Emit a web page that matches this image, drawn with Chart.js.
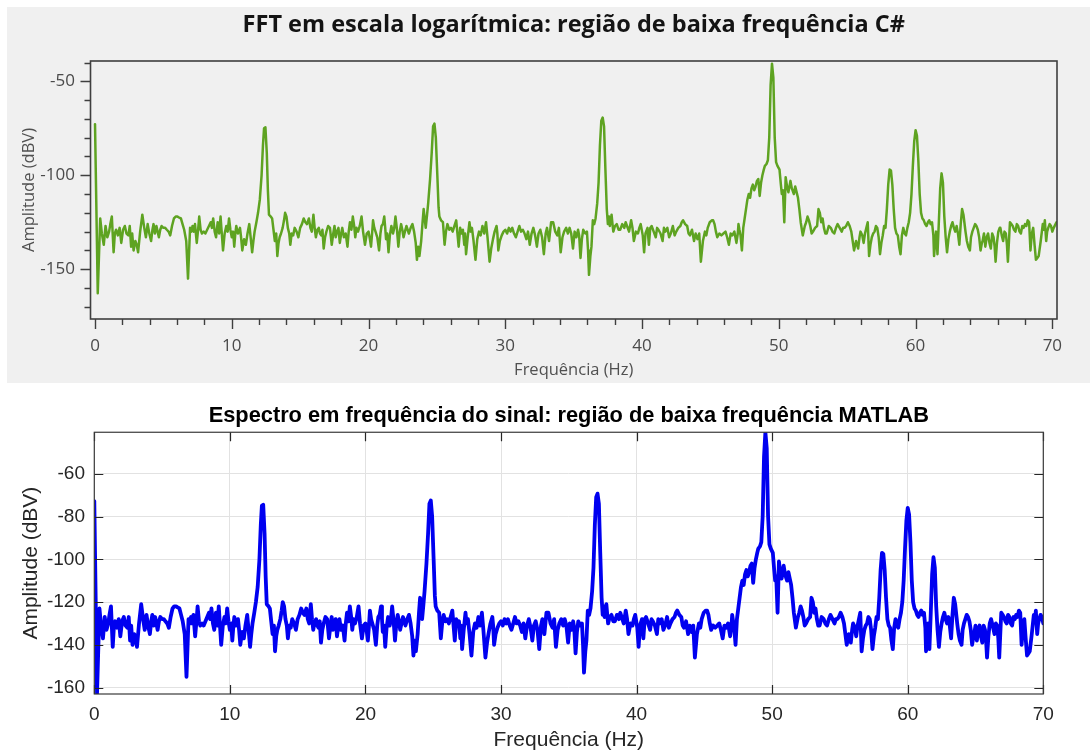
<!DOCTYPE html>
<html>
<head>
<meta charset="utf-8">
<title>Espectro de baixa frequência</title>
<script src="https://cdn.jsdelivr.net/npm/chart.js@4.4.1/dist/chart.umd.min.js"></script>
<style>
  html, body { margin: 0; padding: 0; background: #ffffff; width: 1090px; height: 754px; overflow: hidden; }
  #panelCsharp { position: absolute; left: 7px; top: 7px; width: 1083px; height: 376px; background: #f0f0f0; }
  #panelMatlab { position: absolute; left: 0px; top: 390px; width: 1090px; height: 364px; background: #ffffff; }
</style>
</head>
<body>
<div id="panelCsharp"><canvas id="csharpChart"></canvas></div>
<div id="panelMatlab"><canvas id="matlabChart"></canvas></div>
<script>
// Spectrum samples (frequency in Hz, amplitude in dBV), same signal in both plots
const freqHz = [
  0, 0.2, 0.38, 0.5, 0.64, 0.77, 0.9, 1.03, 1.12, 1.23,
  1.36, 1.45, 1.54, 1.67, 1.8, 1.92, 2.05, 2.18, 2.3, 2.44,
  2.54, 2.64, 2.72, 2.82, 2.95, 3.05, 3.15, 3.3, 3.46, 3.6,
  3.72, 3.85, 3.97, 4.1, 4.2, 4.28, 4.38, 4.49, 4.58, 4.67,
  4.77, 4.87, 5, 5.13, 5.25, 5.38, 5.5, 5.63, 5.77, 5.9,
  6.03, 6.15, 6.28, 6.4, 6.52, 6.67, 6.8, 6.95, 7.05, 7.13,
  7.22, 7.31, 7.44, 7.55, 7.62, 7.72, 7.82, 7.95, 8.07, 8.2,
  8.33, 8.46, 8.55, 8.64, 8.75, 8.85, 8.97, 9.08, 9.18, 9.27,
  9.36, 9.48, 9.6, 9.7, 9.8, 9.9, 10, 10.1, 10.18, 10.26,
  10.33, 10.45, 10.6, 10.68, 10.77, 10.9, 11.03, 11.15, 11.28, 11.38,
  11.49, 11.58, 11.67, 11.8, 11.92, 12.05, 12.18, 12.28, 12.36, 12.46,
  12.56, 12.64, 12.72, 12.85, 12.95, 13.05, 13.15, 13.25, 13.33, 13.42,
  13.5, 13.6, 13.72, 13.82, 13.9, 14, 14.1, 14.2, 14.28, 14.38,
  14.49, 14.6, 14.74, 14.87, 15, 15.13, 15.26, 15.38, 15.5, 15.64,
  15.75, 15.85, 15.97, 16.06, 16.15, 16.26, 16.36, 16.45, 16.54, 16.63,
  16.72, 16.82, 16.92, 17.05, 17.18, 17.31, 17.42, 17.51, 17.6, 17.69,
  17.8, 17.9, 18, 18.08, 18.2, 18.33, 18.46, 18.55, 18.64, 18.75,
  18.85, 18.95, 19.03, 19.12, 19.23, 19.36, 19.49, 19.6, 19.74, 19.87,
  20, 20.1, 20.18, 20.26, 20.33, 20.42, 20.51, 20.64, 20.77, 20.87,
  20.95, 21.05, 21.15, 21.22, 21.28, 21.37, 21.46, 21.56, 21.67, 21.79,
  21.88, 21.97, 22.08, 22.18, 22.28, 22.38, 22.47, 22.56, 22.66, 22.77,
  22.86, 22.95, 23.08, 23.21, 23.33, 23.45, 23.54, 23.63, 23.72, 23.85,
  23.95, 24.03, 24.12, 24.18, 24.28, 24.36, 24.5, 24.62, 24.72, 24.82,
  24.92, 25.03, 25.12, 25.18, 25.3, 25.44, 25.56, 25.66, 25.77, 25.9,
  26.03, 26.15, 26.28, 26.41, 26.5, 26.59, 26.7, 26.79, 26.9, 27,
  27.06, 27.13, 27.25, 27.38, 27.46, 27.56, 27.68, 27.82, 27.95, 28.08,
  28.2, 28.33, 28.46, 28.59, 28.7, 28.85, 28.97, 29.1, 29.22, 29.36,
  29.42, 29.49, 29.6, 29.74, 29.87, 30, 30.13, 30.26, 30.38, 30.51,
  30.64, 30.77, 30.9, 31.03, 31.15, 31.28, 31.41, 31.54, 31.66, 31.79,
  31.92, 32.05, 32.18, 32.31, 32.43, 32.56, 32.69, 32.82, 32.95, 33.05,
  33.2, 33.35, 33.5, 33.65, 33.8, 33.92, 34.05, 34.18, 34.3, 34.45,
  34.58, 34.7, 34.82, 34.95, 35.07, 35.2, 35.32, 35.4, 35.5, 35.6,
  35.7, 35.85, 35.97, 36.05, 36.12, 36.22, 36.3, 36.4, 36.5, 36.6,
  36.72, 36.82, 36.92, 37.02, 37.12, 37.22, 37.32, 37.42, 37.5, 37.58,
  37.64, 37.72, 37.77, 37.85, 37.9, 38.02, 38.15, 38.28, 38.4, 38.55,
  38.7, 38.8, 38.9, 39.05, 39.2, 39.3, 39.4, 39.55, 39.7, 39.8,
  39.9, 40.05, 40.15, 40.25, 40.4, 40.5, 40.6, 40.7, 40.85, 41,
  41.1, 41.2, 41.35, 41.5, 41.6, 41.7, 41.85, 41.98, 42.1, 42.25,
  42.38, 42.5, 42.65, 42.8, 42.9, 43, 43.15, 43.3, 43.4, 43.5,
  43.65, 43.8, 43.92, 44.05, 44.18, 44.3, 44.45, 44.6, 44.7, 44.8,
  44.95, 45.1, 45.2, 45.3, 45.4, 45.5, 45.65, 45.8, 45.95, 46.1,
  46.22, 46.35, 46.48, 46.6, 46.75, 46.9, 47, 47.05, 47.12, 47.2,
  47.3, 47.4, 47.5, 47.6, 47.7, 47.8, 47.9, 48, 48.1, 48.2,
  48.3, 48.4, 48.5, 48.6, 48.7, 48.8, 48.9, 48.98, 49.1, 49.2,
  49.3, 49.4, 49.5, 49.6, 49.7, 49.8, 49.9, 50.05, 50.15, 50.22,
  50.3, 50.4, 50.5, 50.6, 50.7, 50.85, 50.95, 51.1, 51.2, 51.3,
  51.4, 51.5, 51.6, 51.75, 51.9, 52, 52.1, 52.2, 52.3, 52.4,
  52.5, 52.65, 52.8, 52.9, 53, 53.1, 53.2, 53.3, 53.4, 53.5,
  53.65, 53.8, 53.92, 54.05, 54.18, 54.3, 54.45, 54.6, 54.7, 54.8,
  54.92, 55.05, 55.18, 55.3, 55.4, 55.5, 55.65, 55.8, 55.9, 55.97,
  56.1, 56.2, 56.3, 56.4, 56.5, 56.6, 56.7, 56.8, 56.9, 57,
  57.1, 57.2, 57.3, 57.4, 57.5, 57.6, 57.7, 57.8, 57.9, 58,
  58.1, 58.2, 58.3, 58.4, 58.5, 58.6, 58.7, 58.8, 58.9, 59,
  59.1, 59.2, 59.3, 59.4, 59.5, 59.6, 59.7, 59.8, 59.9, 60,
  60.1, 60.2, 60.3, 60.4, 60.5, 60.6, 60.7, 60.8, 60.9, 61,
  61.1, 61.2, 61.3, 61.35, 61.45, 61.5, 61.6, 61.7, 61.8, 61.9,
  62, 62.1, 62.2, 62.3, 62.4, 62.5, 62.6, 62.7, 62.8, 62.9,
  63, 63.1, 63.2, 63.3, 63.4, 63.5, 63.6, 63.65, 63.75, 63.85,
  63.97, 64.05, 64.15, 64.25, 64.35, 64.45, 64.55, 64.65, 64.75, 64.85,
  64.9, 65, 65.1, 65.2, 65.3, 65.4, 65.5, 65.6, 65.7, 65.78,
  65.85, 65.95, 66.05, 66.15, 66.2, 66.3, 66.4, 66.5, 66.6, 66.68,
  66.75, 66.82, 66.9, 67, 67.1, 67.2, 67.3, 67.4, 67.5, 67.6,
  67.7, 67.8, 67.9, 68, 68.1, 68.2, 68.3, 68.4, 68.5, 68.6,
  68.7, 68.8, 68.9, 69, 69.15, 69.3, 69.38, 69.45, 69.55, 69.62,
  69.7, 69.8, 69.9, 70, 70.1, 70.3
];

const amplitudeDbv = [
  -72.8, -162.8, -123, -131, -137, -127, -133, -130, -126, -122,
  -141, -131, -129, -132, -128, -136, -129, -127, -131, -132,
  -127, -138, -131, -140, -135, -137, -141, -130, -121, -128,
  -133, -126, -131, -135, -129, -126, -131, -127, -130, -133,
  -129, -127, -128, -128, -129, -130, -132, -127, -123, -122,
  -122, -122.5, -123, -126, -129, -135, -155, -128, -130, -127,
  -130, -126, -136, -128, -122, -129, -131, -130, -131, -129,
  -127, -125, -128, -123, -130, -133, -125, -131, -122, -131,
  -140, -131, -127, -130, -123, -129, -133, -130, -138, -131,
  -127, -131, -128, -133, -140, -134, -137, -131, -126, -133,
  -141, -135, -130, -125, -120, -113, -100, -84, -75, -74.5,
  -88, -108, -121, -122, -123, -129, -135, -131, -143, -136,
  -133, -131, -128, -124, -120, -122, -128, -131, -137, -131,
  -132, -128, -130, -133, -128, -126, -123, -125, -126, -123,
  -128, -130, -121, -128, -133, -129, -128, -131, -132, -129,
  -139, -133, -130, -127, -128, -137, -131, -127, -133, -130,
  -128, -136, -131, -128, -133, -131, -138, -130, -125, -129,
  -122, -127, -133, -128, -130, -127, -122, -130, -137, -131,
  -130, -134, -138, -131, -124, -128, -130, -133, -140, -131,
  -127, -126, -122, -128, -134, -131, -141, -132, -127, -131,
  -128, -122, -129, -138, -130, -126, -129, -133, -130, -127,
  -129, -131, -128, -126, -130, -136, -145, -138, -143, -135,
  -125, -118, -124, -128, -121, -115, -102, -88, -74, -72.5,
  -80, -100, -117, -122, -124, -125, -137, -130, -126, -129,
  -128, -130, -127, -124, -131, -138, -128, -131, -129, -137,
  -131, -142, -133, -125, -130, -128, -135, -145, -134, -130,
  -132, -127, -131, -125, -133, -146, -139, -134, -130, -127,
  -131, -140, -135, -132, -130, -129, -131, -128, -130, -128,
  -131, -133, -130, -127, -130, -129, -131, -134, -130, -137,
  -131, -128, -132, -138, -131, -129, -133, -142, -131, -128,
  -135, -125, -125, -130, -132, -128, -141, -133, -130, -128,
  -131, -128, -131, -139, -130, -133, -129, -132, -144, -134,
  -129, -131, -130, -140, -153, -143, -138, -124, -126, -123,
  -115, -104, -84, -71, -69.3, -74, -97, -118, -126, -122,
  -127, -124, -121, -127, -130, -127, -126, -129, -129, -126,
  -128, -125, -127, -130, -124, -128, -135, -130, -131, -128,
  -126, -132, -141, -131, -128, -137, -128, -127, -130, -133,
  -128, -129, -131, -135, -128, -130, -128, -133, -131, -127,
  -132, -130, -128, -127, -125, -124, -126, -127, -131, -132,
  -129, -135, -131, -134, -131, -146, -135, -130, -132, -128,
  -125, -124, -124, -126, -130, -133, -131, -132, -131, -130,
  -133, -137, -131, -132, -130, -136, -131, -126, -129, -132,
  -140, -128, -123, -118, -113, -110, -112, -107, -105, -108,
  -106, -103, -102, -111, -104, -100, -97, -95, -94, -92,
  -80, -52, -40.6, -48, -80, -93, -95, -97, -105, -110,
  -108, -125, -101, -106, -109, -103, -107, -110, -106, -109,
  -112, -118, -125, -132, -127, -125, -122, -124, -127, -131,
  -130, -128, -127, -118, -120, -125, -123, -128, -131, -131,
  -127, -128, -130, -131, -128, -126, -128, -130, -128, -128,
  -127, -125, -127, -130, -135, -140, -135, -139, -133, -130,
  -132, -136, -131, -128, -125, -143, -137, -133, -131, -130,
  -127, -128, -133, -142, -136, -132, -127, -128, -118, -105,
  -97, -97.5, -105, -118, -128, -131, -132, -138, -142, -132,
  -128, -131, -132, -128, -125, -120, -110, -95, -82, -76,
  -79, -92, -110, -120, -123, -124, -126, -127, -125, -124,
  -126, -125, -132, -143, -134, -130, -142, -125, -107, -99,
  -104, -122, -133, -141, -134, -130, -127, -125, -128, -130,
  -127, -131, -137, -126, -118, -121, -127, -130, -135, -138,
  -140, -133, -130, -128, -126, -127, -129, -133, -140, -136,
  -135, -131, -138, -133, -131, -136, -139, -131, -133, -138,
  -146, -136, -130, -128, -128, -132, -135, -130, -131, -137,
  -146, -136, -125, -126, -127, -129, -130, -126, -127, -130,
  -131, -127, -128, -126, -127, -124, -125, -140, -131, -128,
  -137, -145, -144, -143, -135, -126, -129, -124, -135, -130,
  -128, -126, -127, -130, -128, -125
];

// Axis tick labels
const csharpXLabels = [0, 10, 20, 30, 40, 50, 60, 70];
const csharpYLabels = [-50, -100, -150];
const matlabXLabels = [0, 10, 20, 30, 40, 50, 60, 70];
const matlabYLabels = [-160, -140, -120, -100, -80, -60];

const spectrumPoints = freqHz.map((f, i) => ({ x: f, y: amplitudeDbv[i] }));

Chart.defaults.animation = false;
Chart.defaults.devicePixelRatio = 1;

// ---------- C# style panel: grey background, outward minor/major ticks ----------
const csharpFont = "'Open Sans', 'Noto Sans', sans-serif";

const csharpFrame = {
  id: 'csharpFrame',
  afterDatasetsDraw(chart) {
    const { ctx, chartArea: a, scales: { x, y } } = chart;
    ctx.save();
    ctx.strokeStyle = '#3f3f3f';
    ctx.lineWidth = 1.4;
    ctx.beginPath();
    x.ticks.forEach(t => {
      const px = Math.round(x.getPixelForValue(t.value)) + 0.5;
      const len = csharpXLabels.includes(t.value) ? 10 : 6;
      ctx.moveTo(px, a.bottom);
      ctx.lineTo(px, a.bottom + len);
    });
    y.ticks.forEach(t => {
      const py = Math.round(y.getPixelForValue(t.value)) + 0.5;
      const len = csharpYLabels.includes(t.value) ? 10 : 6;
      ctx.moveTo(a.left, py);
      ctx.lineTo(a.left - len, py);
    });
    ctx.stroke();
    ctx.lineWidth = 1.6;
    ctx.strokeRect(a.left, a.top, a.right - a.left, a.bottom - a.top);
    ctx.restore();
  }
};

new Chart(document.getElementById('csharpChart'), {
  type: 'line',
  data: {
    datasets: [{
      data: spectrumPoints,
      borderColor: '#5ea321',
      borderWidth: 2.5,
      pointRadius: 0,
      tension: 0,
      borderJoinStyle: 'round',
      borderCapStyle: 'round'
    }]
  },
  options: {
    responsive: true,
    maintainAspectRatio: false,
    events: [],
    layout: { padding: { left: 0, right: 33, top: 0, bottom: 0 } },
    plugins: {
      legend: { display: false },
      tooltip: { enabled: false },
      title: {
        display: true,
        fullSize: false,
        text: 'FFT em escala logarítmica: região de baixa frequência C#',
        color: '#141414',
        font: { family: csharpFont, size: 23.5, weight: 'bold' },
        padding: { top: 3.9, bottom: 21.9 }
      }
    },
    scales: {
      x: {
        type: 'linear',
        min: -0.33,
        max: 70.34,
        afterFit: s => { s.height = 64; },
        grid: { display: false, drawTicks: false },
        border: { display: false },
        ticks: {
          stepSize: 2,
          includeBounds: false,
          autoSkip: false,
          maxRotation: 0,
          padding: 16.8,
          color: '#4a4a4a',
          font: { family: csharpFont, size: 17 },
          callback: v => csharpXLabels.includes(v) ? String(v) : ''
        },
        title: {
          display: true,
          text: 'Frequência (Hz)',
          color: '#505050',
          font: { family: csharpFont, size: 16.5 },
          padding: { top: 0, bottom: 3.1 }
        }
      },
      y: {
        min: -176.5,
        max: -39.2,
        afterFit: s => { s.width = 83.5; },
        grid: { display: false, drawTicks: false },
        border: { display: false },
        ticks: {
          stepSize: 10,
          includeBounds: false,
          autoSkip: false,
          padding: 15.5,
          color: '#4a4a4a',
          font: { family: csharpFont, size: 17 },
          callback: v => csharpYLabels.includes(v) ? String(v) : ''
        },
        title: {
          display: true,
          text: 'Amplitude (dBV)',
          color: '#505050',
          font: { family: csharpFont, size: 16.5 },
          padding: { top: 12.1, bottom: 0 }
        }
      }
    }
  },
  plugins: [csharpFrame]
});

// ---------- MATLAB style panel: white axes, grid, inward ticks on all sides ----------
const matlabFont = "'Liberation Sans', Arial, Helvetica, sans-serif";

const matlabAxesBox = {
  id: 'matlabAxesBox',
  afterDatasetsDraw(chart) {
    const { ctx, chartArea: a, scales: { x, y } } = chart;
    const len = 9;
    ctx.save();
    ctx.strokeStyle = '#262626';
    ctx.lineWidth = 1.2;
    ctx.beginPath();
    x.ticks.forEach(t => {
      const px = Math.round(x.getPixelForValue(t.value)) + 0.5;
      ctx.moveTo(px, a.bottom); ctx.lineTo(px, a.bottom - len);
      ctx.moveTo(px, a.top); ctx.lineTo(px, a.top + len);
    });
    y.ticks.forEach(t => {
      const py = Math.round(y.getPixelForValue(t.value)) + 0.5;
      ctx.moveTo(a.left, py); ctx.lineTo(a.left + len, py);
      ctx.moveTo(a.right, py); ctx.lineTo(a.right - len, py);
    });
    ctx.stroke();
    ctx.strokeStyle = '#3a3a3a';
    ctx.strokeRect(a.left, a.top, a.right - a.left, a.bottom - a.top);
    ctx.restore();
  }
};

new Chart(document.getElementById('matlabChart'), {
  type: 'line',
  data: {
    datasets: [{
      data: spectrumPoints,
      borderColor: '#0000f0',
      borderWidth: 3.8,
      pointRadius: 0,
      tension: 0,
      borderJoinStyle: 'round',
      borderCapStyle: 'round'
    }]
  },
  options: {
    responsive: true,
    maintainAspectRatio: false,
    events: [],
    layout: { padding: { left: 0, right: 46.7, top: 0, bottom: 0 } },
    plugins: {
      legend: { display: false },
      tooltip: { enabled: false },
      title: {
        display: true,
        fullSize: false,
        text: 'Espectro em frequência do sinal: região de baixa frequência MATLAB',
        color: '#000000',
        font: { family: matlabFont, size: 21.8, weight: 'bold' },
        padding: { top: 12.5, bottom: 3.6 }
      }
    },
    scales: {
      x: {
        type: 'linear',
        min: 0,
        max: 70,
        afterFit: s => { s.height = 60; },
        grid: { color: '#e2e2e2', lineWidth: 1, drawTicks: false },
        border: { display: false },
        ticks: {
          stepSize: 10,
          includeBounds: false,
          autoSkip: false,
          maxRotation: 0,
          padding: 9.6,
          color: '#262626',
          font: { family: matlabFont, size: 19 },
          callback: v => matlabXLabels.includes(v) ? String(v) : ''
        },
        title: {
          display: true,
          text: 'Frequência (Hz)',
          color: '#262626',
          font: { family: matlabFont, size: 21 },
          padding: { top: 0, bottom: 0.9 }
        }
      },
      y: {
        min: -163,
        max: -40.6,
        afterFit: s => { s.width = 94.3; },
        grid: { color: '#e2e2e2', lineWidth: 1, drawTicks: false },
        border: { display: false },
        ticks: {
          stepSize: 20,
          includeBounds: false,
          autoSkip: false,
          padding: 9.3,
          color: '#262626',
          font: { family: matlabFont, size: 19 },
          callback: v => matlabYLabels.includes(v) ? String(v) : ''
        },
        title: {
          display: true,
          text: 'Amplitude (dBV)',
          color: '#262626',
          font: { family: matlabFont, size: 21 },
          padding: { top: 18.7, bottom: 0 }
        }
      }
    }
  },
  plugins: [matlabAxesBox]
});
</script>
</body>
</html>
